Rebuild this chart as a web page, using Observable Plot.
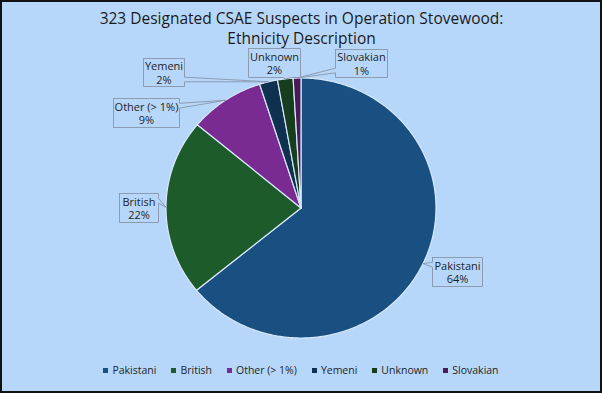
<!DOCTYPE html>
<html><head><meta charset="utf-8">
<script src="https://cdn.jsdelivr.net/npm/d3@7"></script>
<script src="https://cdn.jsdelivr.net/npm/@observablehq/plot@0.6"></script>
<style>
html,body{margin:0;padding:0;background:#fff}
#wrap{position:relative;width:602px;height:393px;background:#b7d7fa;overflow:hidden;font-family:"Open Sans",sans-serif}
#wrap svg{position:absolute;left:0;top:0}
#border{position:absolute;left:0;top:0;width:602px;height:393px;box-sizing:border-box;border:2px solid #111;pointer-events:none}
#legend{position:absolute;left:0;top:363px;width:602px;display:flex;justify-content:center;gap:15px;font-size:10.5px;line-height:15px;color:#1f1f1f}
.item{display:inline-flex;align-items:center}
.sw{width:5px;height:5px;margin-right:4px}
</style></head><body>
<div id="wrap"><div id="legend"></div><div id="border"></div></div>
<script>
// ---- data ----
const categories = ["Pakistani", "British", "Other (> 1%)", "Yemeni", "Unknown", "Slovakian"];
const counts = [207, 71, 29, 7, 6, 3];
const colors = ["#1a5081", "#1d5c2a", "#7a2b91", "#10304f", "#163e1c", "#4d1a59"];
const titleLines = ["323 Designated CSAE Suspects in Operation Stovewood:", "Ethnicity Description"];

// ---- layout (pixels) ----
const W = 602, H = 393;
const xRange = [165.5, 435.5], yRange = [337.5, 77.5];
// label callout boxes: [left, top, width, height]
const labelBoxes = [[432, 257, 50, 29], [119, 193, 39, 29], [113, 98, 66, 29], [143, 58, 41, 28], [248, 48, 52, 29], [335, 49, 52, 28]];

const total = d3.sum(counts);
const pct = counts.map(c => Math.round(c / total * 100) + "%");
const arcs = d3.pie().sort(null).value(d => d)(counts);

// slices in unit space
const sliceRows = [];
arcs.forEach((a, i) => {
  const name = categories[i];
  sliceRows.push({name, x: 0, y: 0});
  const n = Math.max(4, Math.ceil((a.endAngle - a.startAngle) / 0.01));
  for (let k = 0; k <= n; k++) {
    const t = a.startAngle + (a.endAngle - a.startAngle) * k / n;
    sliceRows.push({name, x: Math.sin(t), y: Math.cos(t)});
  }
  sliceRows.push({name, x: 0, y: 0});
});

// pixel <-> unit conversion (same mapping as the plot scales)
const px = d3.scaleLinear().domain([-1, 1]).range(xRange);
const py = d3.scaleLinear().domain([-1, 1]).range(yRange);

const calloutRows = [];
const labelRows = [];
arcs.forEach((a, i) => {
  const name = categories[i];
  const mid = (a.startAngle + a.endAngle) / 2;
  const tx = px(Math.sin(mid)), ty = py(Math.cos(mid));
  const [x0, y0, w, h] = labelBoxes[i];
  const x1 = x0 + w, y1 = y0 + h, cx = x0 + w / 2, cy = y0 + h / 2;
  const dx = tx - cx, dy = ty - cy;
  let pts;
  if (Math.abs(dx * h) > Math.abs(dy * w)) {
    const yA = dy < 0 ? y0 + h * 2 / 12 : y0 + h * 8 / 12;
    const yB = dy < 0 ? y0 + h * 4 / 12 : y0 + h * 10 / 12;
    if (dx > 0) pts = [[x0, y0], [x1, y0], [x1, yA], [tx, ty], [x1, yB], [x1, y1], [x0, y1], [x0, y0]];
    else pts = [[x0, y0], [x1, y0], [x1, y1], [x0, y1], [x0, yB], [tx, ty], [x0, yA], [x0, y0]];
  } else {
    const xA = dx < 0 ? x0 + w * 2 / 12 : x0 + w * 8 / 12;
    const xB = dx < 0 ? x0 + w * 4 / 12 : x0 + w * 10 / 12;
    if (dy > 0) pts = [[x0, y0], [x1, y0], [x1, y1], [xB, y1], [tx, ty], [xA, y1], [x0, y1], [x0, y0]];
    else pts = [[x0, y0], [xA, y0], [tx, ty], [xB, y0], [x1, y0], [x1, y1], [x0, y1], [x0, y0]];
  }
  pts.forEach(([X, Y]) => calloutRows.push({name, x: px.invert(X), y: py.invert(Y)}));
  labelRows.push({x: px.invert(cx), y: py.invert(cy), text: name + "\n" + pct[i]});
});

const chart = Plot.plot({
  width: W, height: H, margin: 0,
  x: {domain: [-1, 1], range: xRange, axis: null},
  y: {domain: [-1, 1], range: yRange, axis: null},
  color: {domain: categories, range: colors},
  style: {background: "transparent", fontFamily: "Open Sans, sans-serif", overflow: "visible"},
  marks: [
    Plot.line(sliceRows, {x: "x", y: "y", z: "name", fill: "name", stroke: "#d8e9fb", strokeWidth: 1.2, curve: "linear"}),
    Plot.line(calloutRows, {x: "x", y: "y", z: "name", stroke: "#8d9cb2", strokeWidth: 1, fill: "none", curve: "linear", strokeLinejoin: "miter"}),
    Plot.text(labelRows, {x: "x", y: "y", text: "text", fontSize: 11, fill: "#1f1f1f", lineHeight: 1.25}),
    Plot.text([titleLines.join("\n")], {frameAnchor: "top", dy: 9, fontSize: 15.5, lineHeight: 1.3, fill: "#1a1a1a"})
  ]
});
const wrap = document.getElementById("wrap");
wrap.insertBefore(chart, wrap.firstChild);

const legend = d3.select("#legend");
categories.forEach((c, i) => {
  const it = legend.append("span").attr("class", "item");
  it.append("span").attr("class", "sw").style("background", colors[i]);
  it.append("span").text(c);
});
</script>
</body></html>
